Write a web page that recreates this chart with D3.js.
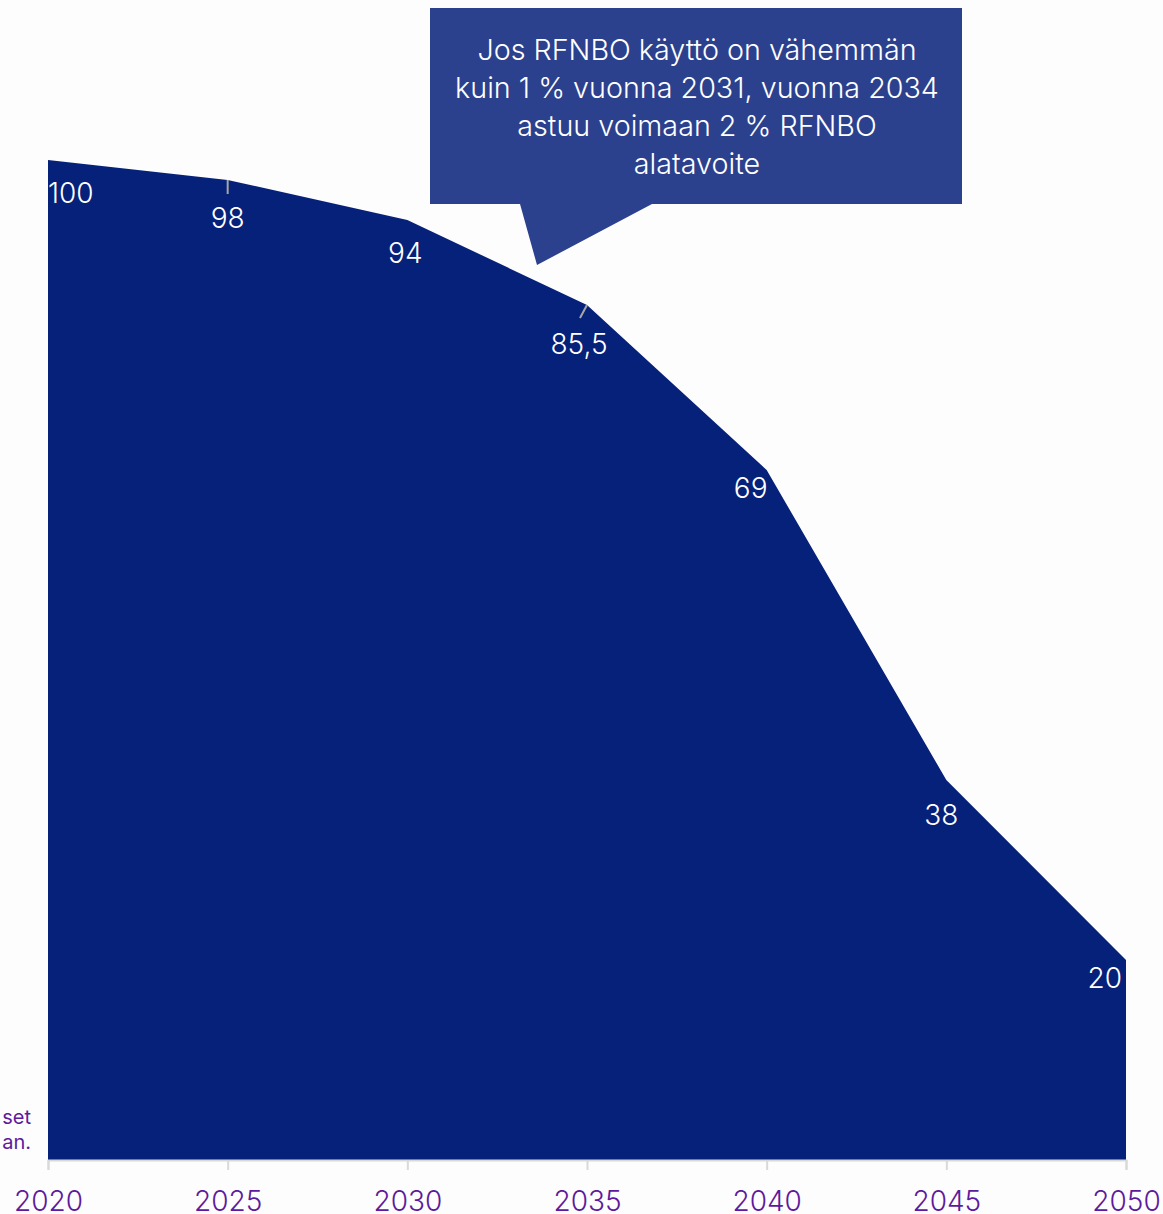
<!DOCTYPE html>
<html>
<head>
<meta charset="utf-8">
<script src="https://cdn.jsdelivr.net/npm/d3@7"></script>
<style>
  body { margin: 0; background: #fdfdfd; }
  svg { display: block; font-family: Inter, "Noto Sans", sans-serif; }
</style>
</head>
<body>
<div id="chart"></div>
<script>
// data
const years = [2020, 2025, 2030, 2035, 2040, 2045, 2050];
const values = [100, 98, 94, 85.5, 69, 38, 20];
const valueLabels = ['100', '98', '94', '85,5', '69', '38', '20'];
const xTicks = [2020, 2025, 2030, 2035, 2040, 2045, 2050];
const calloutLines = [
	'Jos RFNBO käyttö on vähemmän',
	'kuin 1 % vuonna 2031, vuonna 2034',
	'astuu voimaan 2 % RFNBO',
	'alatavoite'
];
const noteLines = ['set', 'an.'];

// label placement (dx, dy from point, anchor)
const labelPos = [
	{dx: 0, dy: 43, anchor: 'start'},
	{dx: 0, dy: 48, anchor: 'middle'},
	{dx: -2, dy: 43, anchor: 'middle'},
	{dx: -8, dy: 49, anchor: 'middle'},
	{dx: -16, dy: 28, anchor: 'middle'},
	{dx: -5, dy: 45, anchor: 'middle'},
	{dx: -4, dy: 28, anchor: 'end'}
];

const width = 1163, height = 1214;
const margin = {top: 60, right: 37, bottom: 54, left: 48};

const svg = d3.select('#chart').append('svg')
	.attr('width', width)
	.attr('height', height);

const x = d3.scaleLinear()
	.domain([2020, 2050])
	.range([margin.left, width - margin.right]);

const y = d3.scaleLinear()
	.domain([0, 100])
	.range([height - margin.bottom, height - margin.bottom - 1000]);

const data = years.map((yr, i) => ({year: yr, value: values[i], label: valueLabels[i]}));

// area
const area = d3.area()
	.x(d => x(d.year))
	.y0(y(0))
	.y1(d => y(d.value));

svg.append('path')
	.datum(data)
	.attr('d', area)
	.attr('fill', '#06217a');

// x axis
const xAxis = g => g
	.attr('transform', `translate(0, ${y(0)})`)
	.call(d3.axisBottom(x).tickValues(xTicks).tickFormat(d3.format('d')).tickSize(10).tickPadding(21))
	.call(g => g.select('.domain').attr('stroke', '#d9d9d9').attr('stroke-width', 2))
	.call(g => g.selectAll('line').attr('stroke', '#d9d9d9').attr('stroke-width', 2))
	.call(g => g.selectAll('text')
		.attr('fill', '#5d1a9c')
		.style('font-size', '28px')
		.style('font-weight', 300)
		.attr('font-family', 'Inter, "Noto Sans", sans-serif'));
svg.append('g').call(xAxis);

// leader lines for 98 and 85,5
svg.append('line')
	.attr('x1', x(2025)).attr('y1', y(98))
	.attr('x2', x(2025)).attr('y2', y(98) + 14)
	.attr('stroke', '#a6a6a6').attr('stroke-width', 2);
svg.append('line')
	.attr('x1', x(2035)).attr('y1', y(85.5))
	.attr('x2', x(2035) - 7).attr('y2', y(85.5) + 13)
	.attr('stroke', '#a6a6a6').attr('stroke-width', 2);

// value labels
svg.append('g')
	.selectAll('text')
	.data(data)
	.enter()
	.append('text')
	.attr('x', (d, i) => x(d.year) + labelPos[i].dx)
	.attr('y', (d, i) => y(d.value) + labelPos[i].dy)
	.attr('text-anchor', (d, i) => labelPos[i].anchor)
	.attr('fill', '#ffffff')
	.style('font-size', '28px')
	.style('font-weight', 300)
	.text(d => d.label);

// callout
const box = {x0: 430, y0: 8, x1: 962, y1: 204};
const callout = svg.append('g');
callout.append('path')
	.attr('d', `M${box.x0},${box.y0}H${box.x1}V${box.y1}H652L537,265L520,${box.y1}H${box.x0}Z`)
	.attr('fill', '#2c418e');
callout.selectAll('text')
	.data(calloutLines)
	.enter()
	.append('text')
	.attr('x', (box.x0 + box.x1) / 2 + 1)
	.attr('y', (d, i) => 60 + i * 38)
	.attr('text-anchor', 'middle')
	.attr('fill', '#ffffff')
	.style('font-size', '28.7px')
	.style('font-weight', 300)
	.text(d => d);

// cut off note at bottom left
svg.append('g')
	.selectAll('text')
	.data(noteLines)
	.enter()
	.append('text')
	.attr('x', 31)
	.attr('y', (d, i) => 1124 + i * 25)
	.attr('text-anchor', 'end')
	.attr('fill', '#5d1a9c')
	.style('font-size', '20px')
	.text(d => d);
</script>
</body>
</html>
